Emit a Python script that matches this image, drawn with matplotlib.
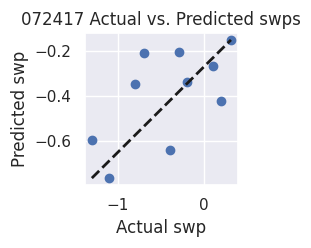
import matplotlib
matplotlib.use("Agg")
import matplotlib.pyplot as plt
import seaborn as sns
import numpy as np

sns.set_theme(style="darkgrid")

# actual vs predicted swp values
actual = np.array([-1.30, -1.10, -0.80, -0.70, -0.40, -0.29, -0.20, 0.10, 0.20, 0.31])
predicted = np.array([-0.594, -0.763, -0.346, -0.211, -0.637, -0.207, -0.339, -0.268, -0.422, -0.153])

fig = plt.figure(figsize=(3.11, 2.48), dpi=100)
ax = fig.add_axes([0.273, 0.254, 0.492, 0.613])
ax.scatter(actual, predicted)
ax.plot([actual.min(), actual.max()], [predicted.min(), predicted.max()], "k--", lw=2)
ax.set_xlabel("Actual swp")
ax.set_ylabel("Predicted swp")
ax.set_title("072417 Actual vs. Predicted swps")
ax.set_xticks([-1, 0])
ax.set_yticks([-0.6, -0.4, -0.2])
fig.savefig("out.png", dpi=100)
